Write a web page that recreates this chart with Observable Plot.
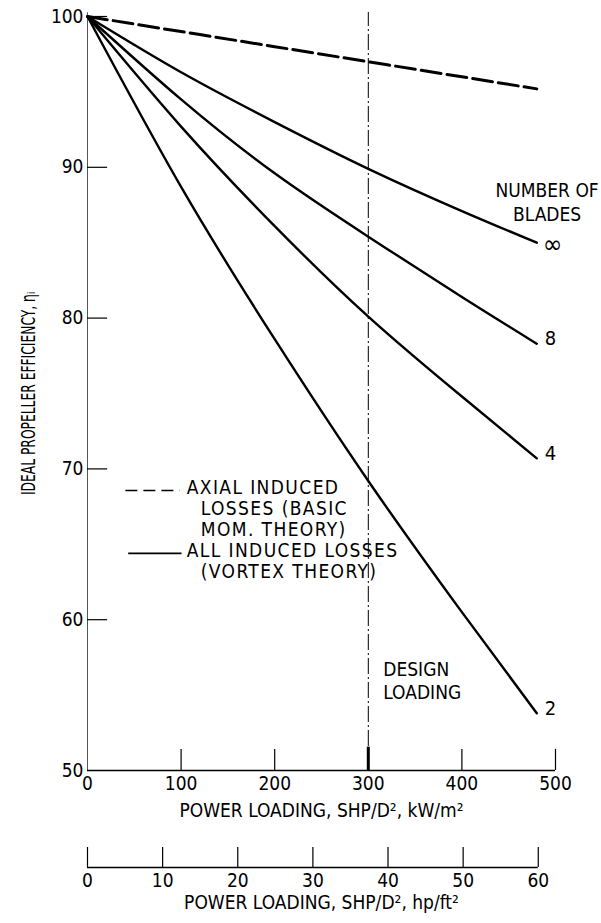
<!DOCTYPE html>
<html><head><meta charset="utf-8">
<script src="https://cdn.jsdelivr.net/npm/d3@7"></script>
<script src="https://cdn.jsdelivr.net/npm/@observablehq/plot@0.6"></script>
<style>
body{margin:0;background:#fff;}
#chart{width:601px;}
#chart svg{display:block;}
</style></head><body><div id="chart"></div>
<script>
// ---- data ----
const loading = [0, 100, 200, 300, 400, 480];            // kW/m²
const axialLosses = [100, 99.0, 98.0, 97.0, 96.0, 95.2];  // basic momentum theory
const bladesInf = [100, 96.3, 93.0, 89.9, 87.1, 85.0];
const blades8   = [100, 94.5, 89.6, 85.4, 81.4, 78.3];
const blades4   = [100, 92.7, 86.1, 80.1, 74.8, 70.7];
const blades2   = [100, 88.7, 78.6, 69.2, 60.5, 53.8];
const bladeLabels = ["∞", "8", "4", "2"];
const xTicksKW = [0, 100, 200, 300, 400, 500];
const yTicks = [50, 60, 70, 80, 90, 100];
const xTicksHP = [0, 10, 20, 30, 40, 50, 60];
const designLoading = 300;
const KW_PER_HP_FT2 = 0.7457 / 0.09290304;

const yTitle = "IDEAL PROPELLER EFFICIENCY, ηᵢ";
const xTitleKW = "POWER LOADING, SHP/D², kW/m²";
const xTitleHP = "POWER LOADING, SHP/D², hp/ft²";
const legendLines = [
  {text: "AXIAL INDUCED", x: 106, y: 68.75},
  {text: "LOSSES (BASIC", x: 121, y: 67.35},
  {text: "MOM. THEORY)", x: 121, y: 65.95},
  {text: "ALL INDUCED LOSSES", x: 106, y: 64.55},
  {text: "(VORTEX THEORY)", x: 121, y: 63.15}
];

const font = "'Liberation Sans Narrow','DejaVu Sans Condensed','Roboto Condensed','Liberation Sans',sans-serif";

const bladeSeries = [bladesInf, blades8, blades4, blades2].map((vals, i) => ({label: bladeLabels[i], vals}));
const bladeRows = bladeSeries.flatMap(s => s.vals.map((v, j) => ({series: s.label, x: loading[j], y: v})));
const axialRows = axialLosses.map((v, j) => ({x: loading[j], y: v}));
const endRows = bladeSeries.map(s => ({label: s.label, x: loading[loading.length - 1], y: s.vals[s.vals.length - 1]}));

const plot1 = Plot.plot({
  width: 601, height: 840,
  marginLeft: 87, marginRight: 46, marginTop: 16, marginBottom: 70,
  style: {fontFamily: font, color: "#000", background: "#fff"},
  x: {domain: [0, 500], axis: null},
  y: {domain: [50, 100], axis: null},
  marks: [
    // axes lines
    Plot.ruleX([0], {y1: 50, y2: 100.25, stroke: "#555", strokeWidth: 1}),
    Plot.ruleY([50], {x1: 0, x2: 500, stroke: "#000", strokeWidth: 1.6}),
    Plot.ruleX(xTicksKW.filter(d => d > 0 && d !== designLoading), {x: d => d, y1: 50, y2: 51.4, stroke: "#000", strokeWidth: 1.2}),
    Plot.ruleX([designLoading], {y1: 50, y2: 51.55, stroke: "#000", strokeWidth: 3}),
    Plot.ruleY(yTicks.filter(d => d > 50), {y: d => d, x1: 0, x2: 21.5, stroke: "#000", strokeWidth: 1.2}),
    Plot.axisX(xTicksKW, {tickSize: 0, tickPadding: 6, fontSize: 19, label: null}),
    Plot.axisY(yTicks, {tickSize: 0, tickPadding: 4, fontSize: 19, label: null}),
    Plot.text([xTitleKW], {frameAnchor: "bottom", dy: 46, fontSize: 19}),
    Plot.text([yTitle], {frameAnchor: "left", textAnchor: "middle", rotate: -90, dx: -59, dy: 0, fontSize: 19}),
    // design loading
    Plot.ruleX([designLoading], {y1: 50, y2: 100.27, stroke: "#000", strokeWidth: 1, strokeDasharray: "16,3,2,3"}),
    Plot.text(["DESIGN\nLOADING"], {x: 316, y: 56.0, textAnchor: "start", lineHeight: 1.25, fontSize: 19}),
    // curves
    Plot.line(axialRows, {x: "x", y: "y", stroke: "#000", strokeWidth: 3, strokeDasharray: "20,6", curve: "natural"}),
    Plot.line(bladeRows, {x: "x", y: "y", z: "series", stroke: "#000", strokeWidth: 2.4, curve: "natural"}),
    Plot.text(endRows.filter(d => d.label !== "∞"), {x: "x", y: "y", text: "label", dx: 8, dy: -5, textAnchor: "start", fontSize: 20}),
    Plot.text(endRows.filter(d => d.label === "∞"), {x: "x", y: "y", text: "label", dx: 6, dy: 2, textAnchor: "start", fontSize: 26}),
    Plot.text(["NUMBER OF\nBLADES"], {x: 491, y: 87.75, lineHeight: 1.3, fontSize: 19}),
    // legend
    Plot.ruleY([68.57], {x1: 41, x2: 99, stroke: "#000", strokeWidth: 1.6, strokeDasharray: "12,6"}),
    Plot.ruleY([64.4], {x1: 44, x2: 101, stroke: "#000", strokeWidth: 1.6}),
    Plot.text(legendLines, {x: "x", y: "y", text: "text", textAnchor: "start", fontSize: 19, ariaLabel: () => "legend-text"})
  ]
});

const plot2 = Plot.plot({
  width: 601, height: 83,
  marginLeft: 87, marginRight: 46, marginTop: 7, marginBottom: 56,
  style: {fontFamily: font, color: "#000", background: "#fff"},
  x: {domain: [0, 500 / KW_PER_HP_FT2], axis: null},
  y: {domain: [0, 1], axis: null},
  marks: [
    Plot.ruleY([0], {x1: 0, x2: 60, stroke: "#000", strokeWidth: 1.6}),
    Plot.ruleX(xTicksHP, {x: d => d, y1: 0, y2: 1, stroke: "#000", strokeWidth: 1.2}),
    Plot.axisX(xTicksHP, {tickSize: 0, tickPadding: 6, fontSize: 19, label: null}),
    Plot.text([xTitleHP], {frameAnchor: "bottom", dy: 41, fontSize: 19})
  ]
});

// lettering-style spacing for the legend
d3.select(plot1).selectAll(`[aria-label="legend-text"]`)
  .attr("letter-spacing", "1.4px")
  .style("letter-spacing", "1.4px");
// the reference's axis title is set in condensed lettering: compress it along its own direction
d3.select(plot1).selectAll("text")
  .filter(function() { return this.textContent === yTitle; })
  .attr("transform", function() { return (this.getAttribute("transform") || "") + " scale(0.72,1)"; });

const chart = document.getElementById("chart");
chart.appendChild(plot1);
chart.appendChild(plot2);
</script>
</body></html>
